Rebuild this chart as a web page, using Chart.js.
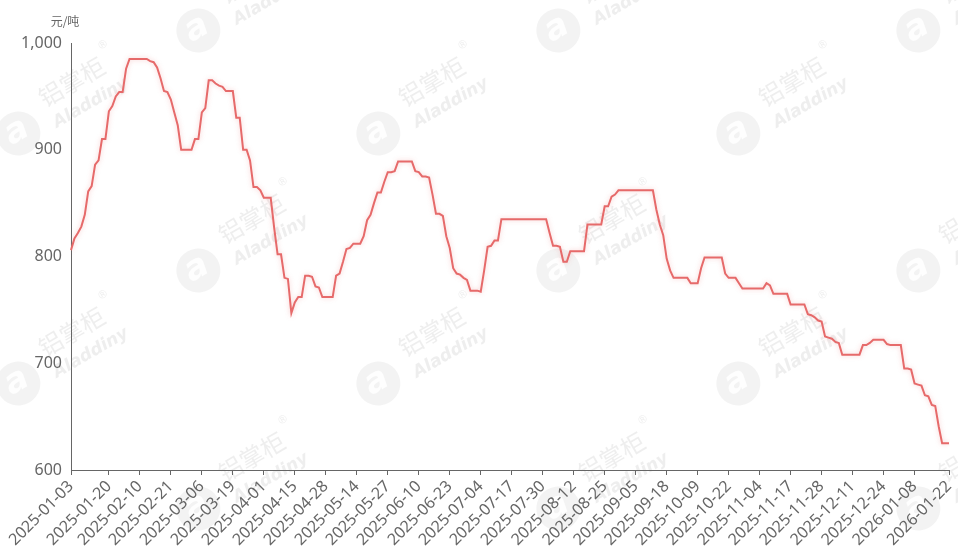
<!DOCTYPE html>
<html>
<head>
<meta charset="utf-8">
<script src="https://cdn.jsdelivr.net/npm/chart.js@4.4.1/dist/chart.umd.min.js"></script>
<style>
  html, body { margin: 0; padding: 0; background: #fff; }
  #wrap { width: 958px; height: 555px; position: relative; }
</style>
</head>
<body>
<div id="wrap"><canvas id="chart_1"></canvas></div>
<script>
// trading days, one price each
var dates = [
  '2025-01-03','2025-01-06','2025-01-07','2025-01-08','2025-01-09','2025-01-10','2025-01-13','2025-01-14','2025-01-15','2025-01-16','2025-01-17','2025-01-20','2025-01-21','2025-01-22','2025-01-23','2025-01-24','2025-01-27',
  '2025-02-05','2025-02-06','2025-02-07','2025-02-10','2025-02-11','2025-02-12','2025-02-13','2025-02-14','2025-02-17','2025-02-18','2025-02-19','2025-02-20','2025-02-21','2025-02-24','2025-02-25','2025-02-26','2025-02-27','2025-02-28',
  '2025-03-03','2025-03-04','2025-03-05','2025-03-06','2025-03-07','2025-03-10','2025-03-11','2025-03-12','2025-03-13','2025-03-14','2025-03-17','2025-03-18','2025-03-19','2025-03-20','2025-03-21','2025-03-24','2025-03-25','2025-03-26','2025-03-27','2025-03-28','2025-03-31',
  '2025-04-01','2025-04-02','2025-04-03','2025-04-07','2025-04-08','2025-04-09','2025-04-10','2025-04-11','2025-04-14','2025-04-15','2025-04-16','2025-04-17','2025-04-18','2025-04-21','2025-04-22','2025-04-23','2025-04-24','2025-04-25','2025-04-28','2025-04-29','2025-04-30',
  '2025-05-06','2025-05-07','2025-05-08','2025-05-09','2025-05-12','2025-05-13','2025-05-14','2025-05-15','2025-05-16','2025-05-19','2025-05-20','2025-05-21','2025-05-22','2025-05-23','2025-05-26','2025-05-27','2025-05-28','2025-05-29','2025-05-30',
  '2025-06-03','2025-06-04','2025-06-05','2025-06-06','2025-06-09','2025-06-10','2025-06-11','2025-06-12','2025-06-13','2025-06-16','2025-06-17','2025-06-18','2025-06-19','2025-06-20','2025-06-23','2025-06-24','2025-06-25','2025-06-26','2025-06-27','2025-06-30',
  '2025-07-01','2025-07-02','2025-07-03','2025-07-04','2025-07-07','2025-07-08','2025-07-09','2025-07-10','2025-07-11','2025-07-14','2025-07-15','2025-07-16','2025-07-17','2025-07-18','2025-07-21','2025-07-22','2025-07-23','2025-07-24','2025-07-25','2025-07-28','2025-07-29','2025-07-30','2025-07-31',
  '2025-08-01','2025-08-04','2025-08-05','2025-08-06','2025-08-07','2025-08-08','2025-08-11','2025-08-12','2025-08-13','2025-08-14','2025-08-15','2025-08-18','2025-08-19','2025-08-20','2025-08-21','2025-08-22','2025-08-25','2025-08-26','2025-08-27','2025-08-28','2025-08-29',
  '2025-09-01','2025-09-02','2025-09-03','2025-09-04','2025-09-05','2025-09-08','2025-09-09','2025-09-10','2025-09-11','2025-09-12','2025-09-15','2025-09-16','2025-09-17','2025-09-18','2025-09-19','2025-09-22','2025-09-23','2025-09-24','2025-09-25','2025-09-26','2025-09-29','2025-09-30',
  '2025-10-09','2025-10-10','2025-10-13','2025-10-14','2025-10-15','2025-10-16','2025-10-17','2025-10-20','2025-10-21','2025-10-22','2025-10-23','2025-10-24','2025-10-27','2025-10-28','2025-10-29','2025-10-30','2025-10-31',
  '2025-11-03','2025-11-04','2025-11-05','2025-11-06','2025-11-07','2025-11-10','2025-11-11','2025-11-12','2025-11-13','2025-11-14','2025-11-17','2025-11-18','2025-11-19','2025-11-20','2025-11-21','2025-11-24','2025-11-25','2025-11-26','2025-11-27','2025-11-28',
  '2025-12-01','2025-12-02','2025-12-03','2025-12-04','2025-12-05','2025-12-08','2025-12-09','2025-12-10','2025-12-11','2025-12-12','2025-12-15','2025-12-16','2025-12-17','2025-12-18','2025-12-19','2025-12-22','2025-12-23','2025-12-24','2025-12-25','2025-12-26','2025-12-29','2025-12-30','2025-12-31',
  '2026-01-05','2026-01-06','2026-01-07','2026-01-08','2026-01-09','2026-01-12','2026-01-13','2026-01-14','2026-01-15','2026-01-16','2026-01-19','2026-01-20','2026-01-21','2026-01-22'
];

var prices = [
  806,817,822,828,839,861,866,886,890,910,910,936,941,950,954,954,976,
  985,985,985,985,985,985,983,982,977,967,955,954,947,935,923,900,900,900,
  900,910,910,935,939,965,965,962,960,959,955,955,955,930,930,900,900,890,865,865,862,
  855,855,855,827,802,802,780,779,747,757,762,762,782,782,781,772,771,762,762,762,762,
  782,784,795,807,808,812,812,812,819,834,839,850,860,860,870,879,879,880,889,
  889,889,889,889,880,879,875,875,874,858,840,840,838,819,808,789,784,783,780,778,
  768,768,768,767,787,809,810,815,815,835,835,835,835,835,835,835,835,835,835,835,835,835,
  835,822,810,810,809,795,795,805,805,805,805,805,830,830,830,830,830,847,847,856,858,
  862,862,862,862,862,862,862,862,862,862,862,844,830,820,798,787,780,780,780,780,780,775,
  775,775,789,799,799,799,799,799,799,784,780,780,780,775,770,770,
  770,770,770,770,770,775,773,765,765,765,765,765,755,755,755,755,755,746,745,743,740,
  739,725,724,723,720,719,708,708,708,708,708,708,717,717,719,722,722,722,722,718,717,717,717,
  717,695,695,694,681,680,679,670,669,661,660,641,625,625,625
];

var tickDates = [
  '2025-01-03','2025-01-20','2025-02-10','2025-02-21','2025-03-06','2025-03-19','2025-04-01','2025-04-15',
  '2025-04-28','2025-05-14','2025-05-27','2025-06-10','2025-06-23','2025-07-04','2025-07-17','2025-07-30',
  '2025-08-12','2025-08-25','2025-09-05','2025-09-18','2025-10-09','2025-10-22','2025-11-04','2025-11-17',
  '2025-11-28','2025-12-11','2025-12-24','2026-01-08','2026-01-22'
];

var unitLabel = '元/吨';

// faint logo watermarks behind the plot
var markSpots = [
  [205, 22], [565, 22], [925, 22],
  [25, 125], [385, 125], [745, 125],
  [205, 262], [565, 262], [925, 262],
  [25, 375], [385, 375], [745, 375],
  [205, 500], [565, 500], [925, 500]
];

var watermark = {
  id: 'watermark',
  beforeDraw: function(chart) {
    var ctx = chart.ctx;
    markSpots.forEach(function(p) {
      ctx.save();
      ctx.translate(p[0], p[1]);
      ctx.rotate(-30 * Math.PI / 180);
      ctx.textBaseline = 'middle';
      // rounded badge with the "a" mark
      ctx.fillStyle = 'rgba(200,200,200,0.22)';
      ctx.beginPath();
      ctx.arc(-10, 4, 22, 0, Math.PI * 2);
      ctx.fill();
      ctx.fillStyle = 'rgba(255,255,255,0.9)';
      ctx.font = 'italic bold 34px "DejaVu Sans"';
      ctx.fillText('a', -22, 2);
      ctx.fillStyle = 'rgba(200,200,200,0.3)';
      ctx.font = '24px "Noto Sans CJK SC"';
      ctx.fillText('铝掌柜', 26, -14);
      ctx.font = 'italic bold 17px "DejaVu Sans"';
      ctx.fillText('Aladdiny', 26, 14);
      ctx.font = '11px "DejaVu Sans"';
      ctx.fillText('®', 102, -30);
      ctx.restore();
    });
  }
};

var extras = {
  id: 'extras',
  beforeDatasetsDraw: function(chart) {
    var ctx = chart.ctx;
    ctx.save();
    ctx.shadowColor = 'rgba(230,105,105,0.35)';
    ctx.shadowBlur = 5;
  },
  afterDatasetsDraw: function(chart) {
    chart.ctx.restore();
  },
  afterDraw: function(chart) {
    var ctx = chart.ctx;
    ctx.save();
    ctx.fillStyle = '#666';
    ctx.font = '12px "Noto Sans CJK SC"';
    ctx.textAlign = 'center';
    ctx.textBaseline = 'middle';
    ctx.fillText(unitLabel, chart.chartArea.left - 6, 21);
    ctx.restore();
  }
};

Chart.defaults.font.family = "'Noto Sans', sans-serif";
Chart.defaults.font.size = 16;
Chart.defaults.color = '#666';

var ctx_1 = document.getElementById('chart_1').getContext('2d');
var chart_1 = new Chart(ctx_1, {
  type: 'line',
  data: {
    labels: dates,
    datasets: [{
      data: prices,
      borderColor: '#e66a6a',
      borderWidth: 2,
      pointRadius: 0,
      tension: 0,
      fill: false
    }]
  },
  options: {
    responsive: true,
    maintainAspectRatio: false,
    animation: false,
    layout: { padding: { top: 43, right: 9, bottom: 0, left: 0 } },
    plugins: { legend: { display: false }, tooltip: { enabled: false } },
    scales: {
      x: {
        type: 'category',
        offset: false,
        grid: { display: true, drawOnChartArea: false, drawTicks: true, tickLength: 5, color: '#666' },
        border: { display: true, color: '#666', width: 1 },
        ticks: {
          autoSkip: false,
          minRotation: 45,
          maxRotation: 45,
          padding: 2,
          callback: function(value) {
            var d = this.getLabelForValue(value);
            return tickDates.indexOf(d) >= 0 ? d : null;
          }
        },
        afterFit: function(scale) {
          scale.paddingLeft = 0;
          scale.paddingRight = 0;
          scale.height = 85;
        }
      },
      y: {
        min: 600,
        max: 1000,
        grid: { display: false, drawTicks: false },
        border: { display: true, color: '#666', width: 1 },
        ticks: {
          stepSize: 100,
          padding: 9,
          callback: function(v) { return v.toLocaleString('en-US'); }
        },
        afterFit: function(scale) {
          scale.width = 71;
        }
      }
    }
  },
  plugins: [watermark, extras]
});
</script>
</body>
</html>
